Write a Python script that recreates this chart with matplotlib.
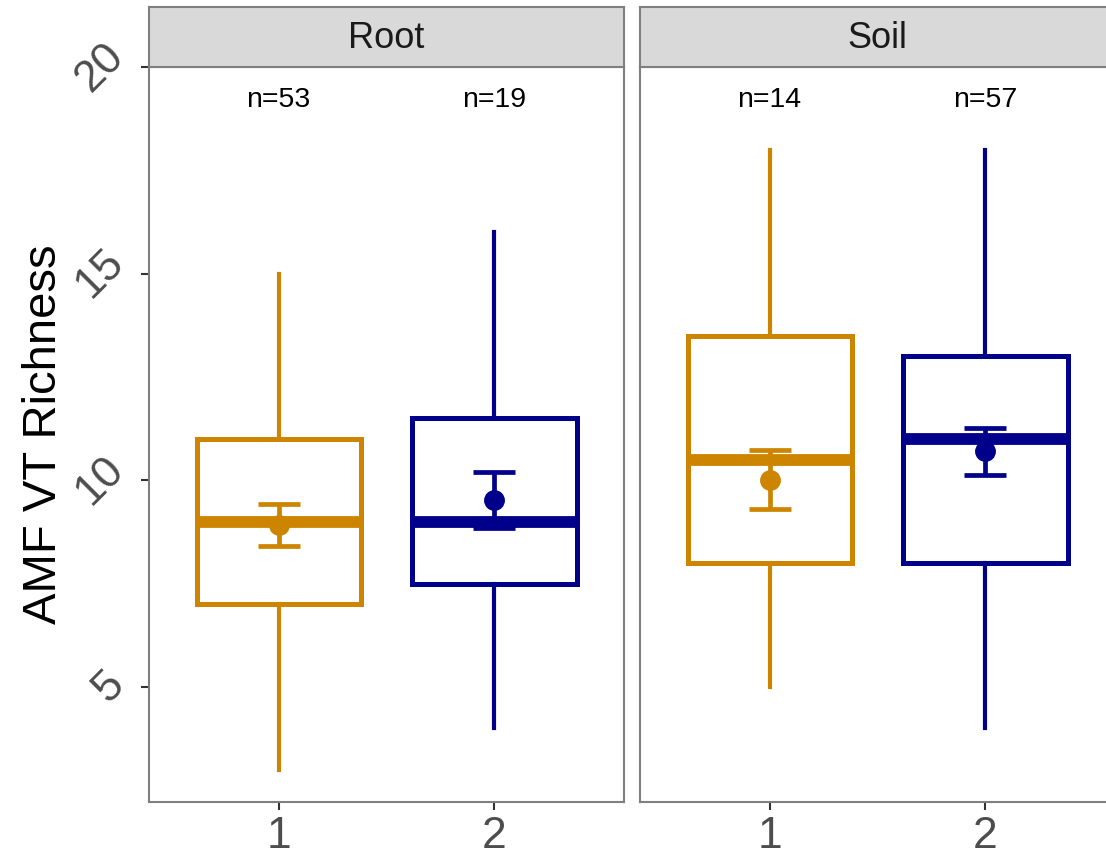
import numpy as np
import matplotlib.pyplot as plt

plt.rcParams['font.family'] = ['Liberation Sans', 'DejaVu Sans']

# boxplot summaries per facet (group 1, group 2)
facets = ['Root', 'Soil']
groups = [1, 2]
n_obs = {'Root': [53, 19], 'Soil': [14, 57]}
whislo = {'Root': [3, 4], 'Soil': [5, 4]}
q1 = {'Root': [7, 7.5], 'Soil': [8, 8]}
med = {'Root': [9, 9], 'Soil': [10.5, 11]}
q3 = {'Root': [11, 11.5], 'Soil': [13.5, 13]}
whishi = {'Root': [15, 16], 'Soil': [18, 18]}
means = {'Root': [8.92, 9.53], 'Soil': [10.02, 10.7]}
se = {'Root': [0.5, 0.68], 'Soil': [0.72, 0.57]}

colors = ['#CD8500', '#00008B']

fig = plt.figure(figsize=(11.06, 8.55), dpi=100)

left0 = 149 / 1106
gap = (640 - 149) / 1106
pw = 475 / 1106
bottom = 1 - 802 / 855
ph = (802 - 67) / 855
sh = 60 / 855

for i, fac in enumerate(facets):
    ax = fig.add_axes([left0 + i * gap, bottom, pw, ph])
    for j, g in enumerate(groups):
        st = [dict(whislo=whislo[fac][j], q1=q1[fac][j], med=med[fac][j],
                   q3=q3[fac][j], whishi=whishi[fac][j], label=str(g))]
        c = colors[j]
        ax.bxp(st, positions=[g], widths=0.76, showfliers=False,
               showcaps=False, patch_artist=True,
               boxprops=dict(facecolor='white', edgecolor=c, linewidth=3.6),
               whiskerprops=dict(color=c, linewidth=3.0),
               medianprops=dict(color=c, linewidth=8.5, solid_capstyle='butt'),
               zorder=2)
        ax.errorbar([g], [means[fac][j]], yerr=[se[fac][j]], fmt='o', color=c,
                    markersize=14, elinewidth=3.4, capsize=15, capthick=3.4,
                    zorder=4)
        ax.text(g, 19.2, f'n={n_obs[fac][j]}', ha='center', va='center',
                fontsize=20.5, color='black')

    ax.set_xlim(0.4, 2.6)
    ax.set_ylim(2.22, 20)
    ax.set_xticks(groups)
    ax.set_xticklabels([str(g) for g in groups])
    ax.tick_params(axis='x', labelsize=32, colors='#333333', length=6,
                   width=1.5, pad=4, labelcolor='#4D4D4D')
    for sp in ax.spines.values():
        sp.set_color('#7F7F7F')
        sp.set_linewidth(1.5)
    if i == 0:
        ax.set_yticks([5, 10, 15, 20])
        ax.set_yticklabels(['5', '10', '15', '20'], rotation=45,
                           ha='right', va='center')
        ax.tick_params(axis='y', labelsize=32, colors='#333333', length=6,
                       width=1.5, pad=6, labelcolor='#4D4D4D')
        ax.set_ylabel('AMF VT Richness', fontsize=34, labelpad=2)
    else:
        ax.set_yticks([])

    # facet strip
    sx = fig.add_axes([left0 + i * gap, bottom + ph, pw, sh])
    sx.set_facecolor('#D9D9D9')
    sx.set_xticks([])
    sx.set_yticks([])
    for sp in sx.spines.values():
        sp.set_color('#7F7F7F')
        sp.set_linewidth(1.5)
    sx.text(0.5, 0.48, fac, transform=sx.transAxes, ha='center', va='center',
            fontsize=26, color='#1A1A1A')

fig.savefig('out.png', dpi=100)
